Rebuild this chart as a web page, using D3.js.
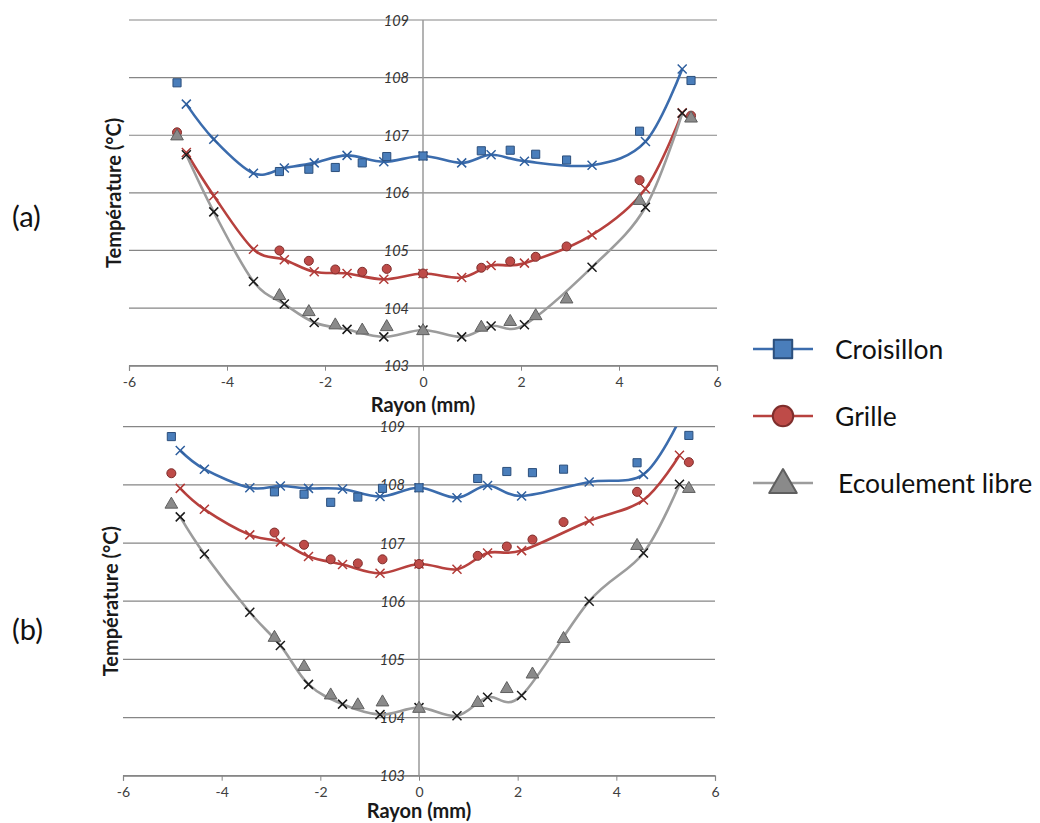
<!DOCTYPE html>
<html>
<head>
<meta charset="utf-8">
<script src="https://cdn.jsdelivr.net/npm/d3@7"></script>
<style>
  html, body { margin: 0; padding: 0; background: #fff; }
  svg { display: block; font-family: Lato, "Open Sans", sans-serif; }
</style>
</head>
<body>
<svg id="chart" width="1040" height="823"></svg>
<script>
// ---------- data ----------
const seriesNames = ["Croisillon", "Grille", "Ecoulement libre"];
const xTicks = [-6, -4, -2, 0, 2, 4, 6];
const yTicks = [103, 104, 105, 106, 107, 108, 109];

// measured positions (markers)
const measX = [-5.02, -2.93, -2.33, -1.79, -1.24, -0.74, 0, 1.19, 1.78, 2.30, 2.93, 4.42, 5.47];
// simulated positions (lines with x markers)
const simXa = [-4.83, -4.27, -3.46, -2.83, -2.22, -1.55, -0.80, 0, 0.79, 1.39, 2.07, 3.45, 4.54, 5.29];
const simXb = [-4.84, -4.35, -3.43, -2.81, -2.24, -1.55, -0.79, 0, 0.77, 1.39, 2.08, 3.45, 4.55, 5.28];

// (a) measured
const croisA  = [107.91, 106.37, 106.41, 106.44, 106.52, 106.63, 106.64, 106.73, 106.74, 106.67, 106.57, 107.07, 107.95];
const grilleA = [107.05, 105.00, 104.82, 104.67, 104.63, 104.68, 104.60, 104.70, 104.81, 104.89, 105.07, 106.22, 107.34];
const libreA  = [107.00, 104.23, 103.95, 103.72, 103.63, 103.69, 103.62, 103.68, 103.78, 103.88, 104.17, 105.88, 107.31];
// (a) simulated
const croisSimA  = [107.54, 106.93, 106.34, 106.43, 106.52, 106.65, 106.54, 106.64, 106.52, 106.66, 106.55, 106.48, 106.89, 108.15];
const grilleSimA = [106.70, 105.95, 105.02, 104.84, 104.63, 104.60, 104.50, 104.60, 104.53, 104.74, 104.78, 105.27, 106.07, 107.39];
const libreSimA  = [106.66, 105.67, 104.46, 104.07, 103.75, 103.63, 103.50, 103.62, 103.50, 103.69, 103.71, 104.71, 105.75, 107.38];

// (b) measured
const croisB  = [108.83, 107.88, 107.84, 107.70, 107.79, 107.94, 107.95, 108.11, 108.23, 108.21, 108.27, 108.38, 108.85];
const grilleB = [108.20, 107.18, 106.97, 106.72, 106.65, 106.72, 106.64, 106.78, 106.94, 107.06, 107.36, 107.88, 108.39];
const libreB  = [107.68, 105.39, 104.89, 104.40, 104.23, 104.28, 104.17, 104.27, 104.51, 104.76, 105.37, 106.97, 107.95];
// (b) simulated
const croisSimB  = [108.59, 108.27, 107.95, 107.98, 107.94, 107.93, 107.80, 107.95, 107.78, 107.99, 107.81, 108.05, 108.18, 109.12];
const grilleSimB = [107.94, 107.58, 107.14, 107.02, 106.77, 106.63, 106.48, 106.64, 106.55, 106.83, 106.87, 107.38, 107.74, 108.51];
const libreSimB  = [107.45, 106.81, 105.81, 105.24, 104.57, 104.23, 104.05, 104.17, 104.03, 104.35, 104.38, 106.00, 106.83, 108.01];

// ---------- styles ----------
const lineColors   = ["#3b6cad", "#b7413e", "#9c9c9c"];
const markFill     = ["#4a7ebb", "#be4b48", "#8a8a8a"];
const markStroke   = ["#2c4f7c", "#7f2e2c", "#5f5f5f"];
const crossColors  = ["#2f5f9e", "#b03a37", "#1a1a1a"];
const shapes = [d3.symbolSquare, d3.symbolCircle, d3.symbolTriangle];

const svg = d3.select("#chart");
const gridColor = "#868686";

function drawChart(cfg) {
  const x = d3.scaleLinear().domain([-6, 6]).range([cfg.left, cfg.right]);
  const y = d3.scaleLinear().domain([103, 109]).range([cfg.bottom, cfg.top]);
  const g = svg.append("g");
  const clipId = "clip" + cfg.id;
  svg.append("clipPath").attr("id", clipId)
    .append("rect").attr("x", cfg.left).attr("y", cfg.top)
    .attr("width", cfg.right - cfg.left).attr("height", cfg.bottom - cfg.top);

  // horizontal gridlines
  g.append("g").selectAll("line").data(yTicks).join("line")
    .attr("x1", cfg.left).attr("x2", cfg.right)
    .attr("y1", d => y(d)).attr("y2", d => y(d))
    .attr("stroke", gridColor).attr("stroke-width", 1.2);

  // vertical axis at x = 0
  g.append("line").attr("x1", x(0)).attr("x2", x(0))
    .attr("y1", cfg.top).attr("y2", cfg.bottom)
    .attr("stroke", "#9a9a9a").attr("stroke-width", 1.5);

  // x axis
  const xAxis = d3.axisBottom(x).tickValues(xTicks).tickSize(5).tickPadding(6)
    .tickFormat(d3.format("d"));
  const xa = g.append("g").attr("transform", `translate(0,${cfg.bottom})`).call(xAxis);
  xa.select(".domain").attr("stroke", gridColor).attr("stroke-width", 1.2);
  xa.selectAll(".tick line").attr("stroke", gridColor);
  xa.selectAll(".tick text").attr("font-size", 14).attr("fill", "#404040")
    .attr("font-family", "Lato, sans-serif").text(d => d < 0 ? "-" + Math.abs(d) : d);

  // y tick labels (italic, beside the axis at x=0)
  g.append("g").selectAll("text").data(yTicks).join("text")
    .attr("x", x(0) - 14).attr("y", d => y(d))
    .attr("text-anchor", "end").attr("dominant-baseline", "central")
    .attr("font-size", 14.5).attr("font-style", "italic").attr("fill", "#333")
    .text(d => d);

  // axis titles
  g.append("text").attr("x", x(0)).attr("y", cfg.bottom + cfg.xtitleDy)
    .attr("text-anchor", "middle").attr("font-weight", "bold").attr("font-size", 20)
    .attr("fill", "#1a1a1a").text("Rayon (mm)");
  g.append("text")
    .attr("transform", `translate(${cfg.ytitleX},${(cfg.top + cfg.bottom) / 2}) rotate(-90)`)
    .attr("text-anchor", "middle").attr("dominant-baseline", "central")
    .attr("font-weight", "bold").attr("font-size", 20)
    .attr("fill", "#1a1a1a").text("Température (°C)");

  // panel label
  g.append("text").attr("x", 12).attr("y", cfg.labelY)
    .attr("dominant-baseline", "central").attr("font-size", 29)
    .attr("fill", "#111").text(cfg.label);

  const plot = g.append("g").attr("clip-path", `url(#${clipId})`);
  const line = d3.line().x(d => x(d[0])).y(d => y(d[1])).curve(d3.curveCardinal.tension(0));

  cfg.sims.forEach((vals, i) => {
    const pts = cfg.simX.map((xv, k) => [xv, vals[k]]);
    plot.append("path").datum(pts).attr("d", line)
      .attr("fill", "none").attr("stroke", lineColors[i]).attr("stroke-width", 2.6);
    plot.append("g").selectAll("path").data(pts.filter(p => p[1] <= 109)).join("path")
      .attr("transform", p => `translate(${x(p[0])},${y(p[1])})`)
      .attr("d", "M-4.5,-4.5L4.5,4.5M-4.5,4.5L4.5,-4.5")
      .attr("stroke", crossColors[i]).attr("stroke-width", 1.5).attr("fill", "none");
  });

  cfg.meas.forEach((vals, i) => {
    const pts = measX.map((xv, k) => [xv, vals[k]]);
    const sizes = [66, 64, 70];
    g.append("g").selectAll("path").data(pts).join("path")
      .attr("transform", p => `translate(${x(p[0])},${y(p[1]) + (i === 2 ? 1 : 0)})`)
      .attr("d", d3.symbol().type(shapes[i]).size(sizes[i]))
      .attr("fill", markFill[i]).attr("stroke", markStroke[i]).attr("stroke-width", 1);
  });
}

drawChart({
  id: "a", left: 129, right: 717, top: 20, bottom: 365.7, ytitleX: 113, labelY: 215, label: "(a)",
  xtitleDy: 46,
  simX: simXa,
  sims: [croisSimA, grilleSimA, libreSimA],
  meas: [croisA, grilleA, libreA]
});
drawChart({
  id: "b", left: 123, right: 715, top: 426.7, bottom: 775.7, ytitleX: 110, labelY: 628, label: "(b)",
  xtitleDy: 42,
  simX: simXb,
  sims: [croisSimB, grilleSimB, libreSimB],
  meas: [croisB, grilleB, libreB]
});

// ---------- legend ----------
const legendY = [349, 416, 483];
const legendTextX = [835, 835, 838];
const leg = svg.append("g");
seriesNames.forEach((name, i) => {
  const row = leg.append("g").attr("transform", `translate(0,${legendY[i]})`);
  row.append("line").attr("x1", 753).attr("x2", 813).attr("y1", 0).attr("y2", 0)
    .attr("stroke", lineColors[i]).attr("stroke-width", 2.6);
  const sz = [340, 330, 330][i];
  row.append("path").attr("transform", `translate(783,${i === 2 ? 2 : 0})`)
    .attr("d", d3.symbol().type(shapes[i]).size(sz))
    .attr("fill", markFill[i]).attr("stroke", markStroke[i]).attr("stroke-width", 2)
    .attr("stroke-linejoin", "round");
  row.append("text").attr("x", legendTextX[i]).attr("y", 0)
    .attr("dominant-baseline", "central").attr("font-size", 26.5).attr("fill", "#111")
    .text(name);
});
</script>
</body>
</html>
